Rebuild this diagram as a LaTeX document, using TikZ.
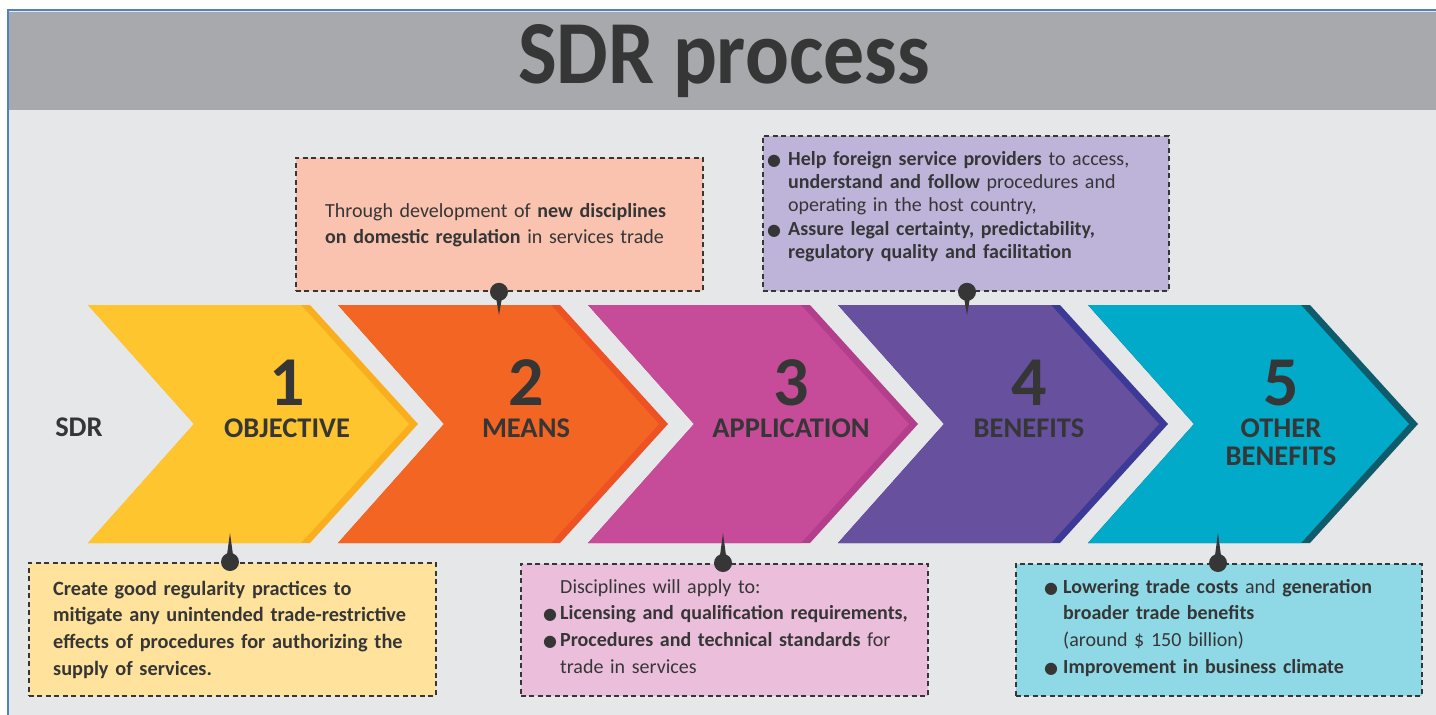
\documentclass[tikz,border=0pt]{standalone}
\usepackage{fontspec}
\setmainfont{Carlito}
\newfontfamily\symfont{DejaVu Sans}
\usepackage{graphicx}
\usetikzlibrary{calc}

\definecolor{ink}{HTML}{363636}
\definecolor{headgray}{HTML}{A7A9AC}
\definecolor{bggray}{HTML}{E6E7E8}
\definecolor{frameblue}{HTML}{4F81C7}
\definecolor{yel}{HTML}{FEC52E}
\definecolor{yeld}{HTML}{F9AF1D}
\definecolor{org}{HTML}{F26522}
\definecolor{orgd}{HTML}{EE5224}
\definecolor{mag}{HTML}{C64B98}
\definecolor{magd}{HTML}{B23E8C}
\definecolor{pur}{HTML}{67509E}
\definecolor{purd}{HTML}{3C3A96}
\definecolor{tea}{HTML}{00AAC8}
\definecolor{tead}{HTML}{0D5B6B}
\definecolor{boxyel}{HTML}{FFE39C}
\definecolor{boxsal}{HTML}{F9C3B0}
\definecolor{boxlav}{HTML}{BEB4DA}
\definecolor{boxpink}{HTML}{EBBFDC}
\definecolor{boxcyan}{HTML}{8FD9E6}

% bullet and matching indent
\newcommand{\bul}[1][17pt]{\makebox[#1][l]{\symfont\fontsize{16}{0}\selectfont ●}}
\newcommand{\ind}[1][17pt]{\leavevmode\hspace*{#1}}

\begin{document}
\begin{tikzpicture}[x=1pt,y=-1pt,
    callout/.style={draw=ink, line width=1.8pt, dash pattern=on 5pt off 3.5pt, inner sep=0, anchor=north west},
    boxtext/.style={anchor=north west, inner sep=0, text width=400pt, align=left, text=ink},
    num/.style={anchor=base, inner sep=0, text=ink, font=\fontsize{70}{70}\selectfont\bfseries},
    lbl/.style={anchor=north, inner sep=0, text width=220pt, align=center, text=ink, font=\fontsize{28.5}{26}\selectfont\bfseries},
    pin/.style={fill=ink}]

  \useasboundingbox (0,0) rectangle (1436,715);
  % frame and header
  \fill[white] (0,0) rectangle (1436,715);
  \fill[bggray] (8,10) rectangle (1436,715);
  \fill[headgray] (9,12) rectangle (1436,110);
  \draw[frameblue, line width=2pt] (8,715) -- (8,10) -- (1436,10);
  \node[anchor=base, inner sep=0, text=ink, font=\fontsize{90}{90}\selectfont\bfseries] (title) at (724,83) {\scalebox{0.91}[1]{SDR process}};

  % chevrons
  \foreach \i/\x/\main/\edge in {1/88/yel/yeld, 2/338/org/orgd, 3/588/mag/magd, 4/838/pur/purd, 5/1088/tea/tead} {
    \fill[\edge] (\x,305) -- ++(222,0) -- ++(108,119) -- ++(-108,119) -- ++(-222,0) -- ++(106,-119) -- cycle;
    \fill[\main] (\x,305) -- ++(213,0) -- ++(108,119) -- ++(-108,119) -- ++(-213,0) -- ++(106,-119) -- cycle;
  }
  \node[anchor=base, inner sep=0, text=ink, font=\fontsize{28.5}{28}\selectfont\bfseries] (sdr) at (79,436) {SDR};
  \node[num] (n1) at (287,405) {1};
  \node[num] (n2) at (526,405) {2};
  \node[num] (n3) at (791,405) {3};
  \node[num] (n4) at (1029,405) {4};
  \node[num] (n5) at (1281,405) {5};
  \node[lbl] (s1) at (287,418.8) {\strut OBJECTIVE};
  \node[lbl] (s2) at (526,418.8) {\strut MEANS};
  \node[lbl] (s3) at (791,418.8) {\strut APPLICATION};
  \node[lbl] (s4) at (1029,418.8) {\strut BENEFITS};
  \node[lbl] (s5) at (1281,418.8) {\strut OTHER\\BENEFITS};

  % callouts
  \node[callout, fill=boxyel, minimum width=407pt, minimum height=133pt] (c1) at (28,562) {};
  \node[callout, fill=boxsal, minimum width=407pt, minimum height=133pt] (c2) at (295,157) {};
  \node[callout, fill=boxlav, minimum width=406pt, minimum height=155pt] (c3) at (762,135) {};
  \node[callout, fill=boxpink, minimum width=407pt, minimum height=132pt] (c4) at (520,563) {};
  \node[callout, fill=boxcyan, minimum width=406pt, minimum height=132pt] (c5) at (1015,563) {};

  \node[boxtext, font=\fontsize{20.3}{26.7}\selectfont] (t1) at ([shift={(25,14.3)}]c1.north west)
    {\strut\textbf{Create good regularity practices to}\\
     \textbf{mitigate any unintended trade-restrictive}\\
     \textbf{effects of procedures for authorizing the}\\
     \textbf{supply of services.}};
  \node[boxtext, font=\fontsize{20}{26}\selectfont] (t2) at ([shift={(30,41.8)}]c2.north west)
    {\strut Through development of \textbf{new disciplines}\\
     \textbf{on domestic regulation} in services trade};
  \node[boxtext, font=\fontsize{20}{23.3}\selectfont] (t3) at ([shift={(5,13.7)}]c3.north west)
    {\strut\bul[21pt]\textbf{Help foreign service providers} to access,\\
     \ind[21pt]\textbf{understand and follow} procedures and\\
     \ind[21pt]operating in the host country,\\
     \bul[21pt]\textbf{Assure legal certainty, predictability,}\\
     \ind[21pt]\textbf{regulatory quality and facilitation}};
  \node[boxtext, font=\fontsize{20}{26.7}\selectfont] (t4) at ([shift={(23,11.3)}]c4.north west)
    {\strut\ind Disciplines will apply to:\\
     \bul\textbf{Licensing and qualification requirements,}\\
     \bul\textbf{Procedures and technical standards} for\\
     \ind trade in services};
  \node[boxtext, font=\fontsize{20}{26.7}\selectfont] (t5) at ([shift={(29,11.3)}]c5.north west)
    {\strut\bul[19pt]\textbf{Lowering trade costs} and \textbf{generation}\\
     \ind[19pt]\textbf{broader trade benefits}\\
     \ind[19pt](around \$ 150 billion)\\
     \bul[19pt]\textbf{Improvement in business climate}};

  % pins
  \coordinate (q1) at (230,533);
  \coordinate (q2) at (499,315);
  \coordinate (q3) at (723,533);
  \coordinate (q4) at (967,315);
  \coordinate (q5) at (1218,533);
  \foreach \b/\q in {c1/q1, c4/q3, c5/q5} {
    \fill[pin] (\b.north -| \q) circle (9);
    \fill[pin] ($(\b.north -| \q)+(-4,0)$) -- (\q) -- ($(\b.north -| \q)+(4,0)$) -- cycle;
  }
  \foreach \b/\q in {c2/q2, c3/q4} {
    \fill[pin] (\b.south -| \q) circle (9);
    \fill[pin] ($(\b.south -| \q)+(-4,0)$) -- (\q) -- ($(\b.south -| \q)+(4,0)$) -- cycle;
  }
\end{tikzpicture}
\end{document}
